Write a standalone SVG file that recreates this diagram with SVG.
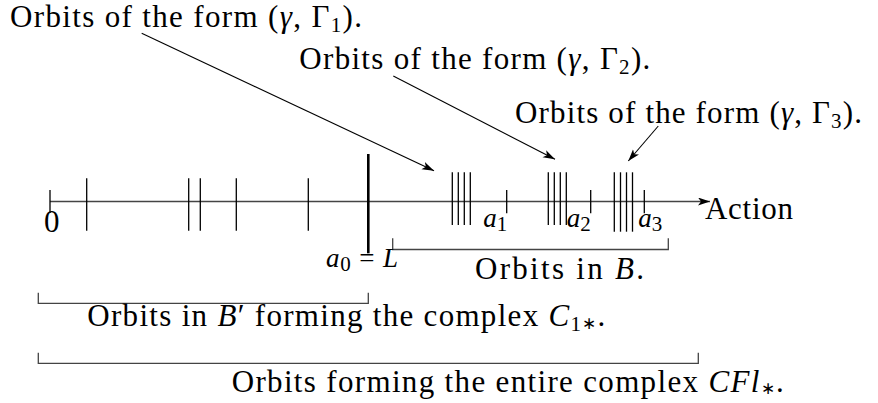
<svg xmlns="http://www.w3.org/2000/svg" width="878" height="403" viewBox="0 0 878 403">
<style>
text{font-family:"Liberation Serif","Times New Roman",serif;font-size:31px;fill:#000}
.lab{font-size:27px}
.it{font-style:italic}
.sub{font-size:21px}
.star{font-size:17px}
.tick{stroke:#000;stroke-width:1.3;fill:none}
.axis{stroke:#444;stroke-width:1.4;fill:none}
.br{stroke:#444;stroke-width:1.3;fill:none}
.arr{stroke:#000;stroke-width:1.1;fill:none}
</style>
<defs>
<marker id="ah" markerUnits="userSpaceOnUse" markerWidth="14" markerHeight="10" refX="12" refY="4" orient="auto">
<path d="M0,0 L12,4 L0,8 L3,4 Z" fill="#000"/>
</marker>
</defs>
<g id="connectors">
<line class="axis" x1="50" y1="201.5" x2="710" y2="201.5" marker-end="url(#ah)"/>
<line class="arr" x1="141.7" y1="33.3" x2="434" y2="170.7" marker-end="url(#ah)"/>
<line class="arr" x1="393.3" y1="76" x2="555" y2="159.3" marker-end="url(#ah)"/>
<line class="arr" x1="658.3" y1="126" x2="628.3" y2="161" marker-end="url(#ah)"/>
</g>
<g id="ticks">
<line class="tick" x1="50" y1="190" x2="50" y2="213"/>
<line class="tick" x1="86.7" y1="178.3" x2="86.7" y2="230.7"/>
<line class="tick" x1="188.7" y1="178.3" x2="188.7" y2="230.7"/>
<line class="tick" x1="200.3" y1="178.3" x2="200.3" y2="230.7"/>
<line class="tick" x1="236.3" y1="178.3" x2="236.3" y2="230.7"/>
<line class="tick" x1="308.3" y1="178.3" x2="308.3" y2="230.7"/>
<line x1="368.3" y1="154" x2="368.3" y2="253.3" stroke="#000" stroke-width="2.6"/>
<line class="tick" x1="452.3" y1="172.3" x2="452.3" y2="225"/>
<line class="tick" x1="458.3" y1="172.3" x2="458.3" y2="225"/>
<line class="tick" x1="464.3" y1="172.3" x2="464.3" y2="225"/>
<line class="tick" x1="470.3" y1="172.3" x2="470.3" y2="225"/>
<line class="tick" x1="506.7" y1="190" x2="506.7" y2="213.3"/>
<line class="tick" x1="548.3" y1="172.3" x2="548.3" y2="225"/>
<line class="tick" x1="554.3" y1="172.3" x2="554.3" y2="225"/>
<line class="tick" x1="560.3" y1="172.3" x2="560.3" y2="225"/>
<line class="tick" x1="566.3" y1="172.3" x2="566.3" y2="225"/>
<line class="tick" x1="590.7" y1="190" x2="590.7" y2="213.3"/>
<line class="tick" x1="614.3" y1="172.3" x2="614.3" y2="231.7"/>
<line class="tick" x1="620.5" y1="172.3" x2="620.5" y2="231.7"/>
<line class="tick" x1="626.5" y1="172.3" x2="626.5" y2="231.7"/>
<line class="tick" x1="632.5" y1="172.3" x2="632.5" y2="231.7"/>
<line class="tick" x1="644.3" y1="190" x2="644.3" y2="213.3"/>
</g>
<g id="brackets">
<path class="br" d="M392.7,238.3 V249.5 H668.3 V238.3"/>
<path class="br" d="M38.3,292.7 V303.3 H368.3 V292.7"/>
<path class="br" d="M38.3,352.7 V363.3 H698.3 V352.7"/>
</g>
<g id="label-gamma1"><text x="10" y="27.3" textLength="352" lengthAdjust="spacing">Orbits of the form (<tspan class="it">γ</tspan>, Γ<tspan class="sub" dy="5">1</tspan><tspan dy="-5">).</tspan></text></g>
<g id="label-gamma2"><text x="299.3" y="69.3" textLength="351" lengthAdjust="spacing">Orbits of the form (<tspan class="it">γ</tspan>, Γ<tspan class="sub" dy="5">2</tspan><tspan dy="-5">).</tspan></text></g>
<g id="label-gamma3"><text x="515" y="123" textLength="347" lengthAdjust="spacing">Orbits of the form (<tspan class="it">γ</tspan>, Γ<tspan class="sub" dy="5">3</tspan><tspan dy="-5">).</tspan></text></g>
<g id="label-action"><text x="705" y="219" textLength="88" lengthAdjust="spacing">Action</text></g>
<g id="label-zero"><text x="44" y="231.7">0</text></g>
<g id="label-a0"><text class="lab" x="326" y="266.7" textLength="72" lengthAdjust="spacing"><tspan class="it">a</tspan><tspan class="sub" dy="4">0</tspan><tspan dy="-4"> = </tspan><tspan class="it">L</tspan></text></g>
<g id="label-a1"><text class="lab" x="483.3" y="226.7"><tspan class="it">a</tspan><tspan class="sub" dy="4">1</tspan></text></g>
<g id="label-a2"><text class="lab" x="566.7" y="226.7"><tspan class="it">a</tspan><tspan class="sub" dy="4">2</tspan></text></g>
<g id="label-a3"><text class="lab" x="638.3" y="226.7"><tspan class="it">a</tspan><tspan class="sub" dy="4">3</tspan></text></g>
<g id="label-B"><text x="475" y="279.3" textLength="169" lengthAdjust="spacing">Orbits in <tspan class="it">B</tspan>.</text></g>
<g id="label-Bprime"><text x="87.3" y="326" textLength="518" lengthAdjust="spacing">Orbits in <tspan class="it">B</tspan>′ forming the complex <tspan class="it">C</tspan><tspan class="sub" dy="5">1</tspan><tspan class="star" dy="-2">∗</tspan><tspan dy="-3">.</tspan></text></g>
<g id="label-CFl"><text x="231.7" y="392" textLength="552" lengthAdjust="spacing">Orbits forming the entire complex <tspan class="it">CFl</tspan><tspan class="star" dy="2">∗</tspan><tspan dy="-2">.</tspan></text></g>
</svg>
